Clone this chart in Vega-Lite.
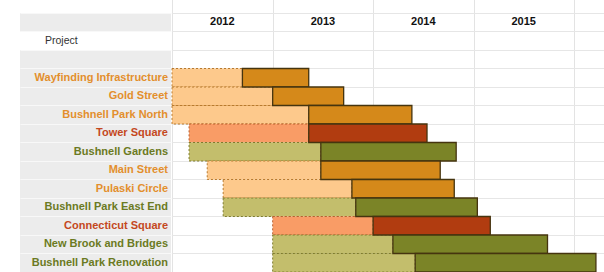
{
  "$schema": "https://vega.github.io/schema/vega-lite/v6.json",
  "padding": {"left": 20, "top": 0, "right": 0, "bottom": 0},
  "spacing": 0,
  "config": {"view": {"stroke": null}, "font": "Liberation Sans"},
  "datasets": {
    "projects": [
      {"row": "_header"},
      {"row": "Project"},
      {"row": "_blank"},
      {"row": "Wayfinding Infrastructure", "category": "orange", "start": "2012-01-01", "mid": "2012-09-13", "end": "2013-05-12"},
      {"row": "Gold Street", "category": "orange", "start": "2012-01-01", "mid": "2013-01-01", "end": "2013-09-16"},
      {"row": "Bushnell Park North", "category": "orange", "start": "2012-01-01", "mid": "2013-05-12", "end": "2014-05-22"},
      {"row": "Tower Square", "category": "red", "start": "2012-03-03", "mid": "2013-05-12", "end": "2014-07-16"},
      {"row": "Bushnell Gardens", "category": "olive", "start": "2012-03-03", "mid": "2013-06-25", "end": "2014-10-30"},
      {"row": "Main Street", "category": "orange", "start": "2012-05-08", "mid": "2013-06-25", "end": "2014-09-02"},
      {"row": "Pulaski Circle", "category": "orange", "start": "2012-07-05", "mid": "2013-10-16", "end": "2014-10-23"},
      {"row": "Bushnell Park East End", "category": "olive", "start": "2012-07-05", "mid": "2013-10-30", "end": "2015-01-15"},
      {"row": "Connecticut Square", "category": "red", "start": "2013-01-01", "mid": "2014-01-01", "end": "2015-03-03"},
      {"row": "New Brook and Bridges", "category": "olive", "start": "2013-01-01", "mid": "2014-03-14", "end": "2015-09-27"},
      {"row": "Bushnell Park Renovation", "category": "olive", "start": "2013-01-01", "mid": "2014-06-03", "end": "2016-03-21"}
    ],
    "years": [
      {"year": "2012"}, {"year": "2013"}, {"year": "2014"}, {"year": "2015"}
    ]
  },
  "hconcat": [
    {
      "width": 151,
      "height": 272,
      "data": {"name": "projects"},
      "layer": [
        {
          "transform": [{"filter": "datum.row != 'Project'"}],
          "mark": {"type": "rect", "fill": "#ececec"},
          "encoding": {
            "y": {
              "field": "row", "type": "nominal",
              "scale": {"domain": ["_top", "_header", "Project", "_blank", "Wayfinding Infrastructure", "Gold Street", "Bushnell Park North", "Tower Square", "Bushnell Gardens", "Main Street", "Pulaski Circle", "Bushnell Park East End", "Connecticut Square", "New Brook and Bridges", "Bushnell Park Renovation"], "range": [-5.5, 272], "paddingInner": 0, "paddingOuter": 0},
              "axis": {"grid": true, "gridColor": "#f8f8f8", "gridWidth": 1, "labels": false, "ticks": false, "domain": false, "title": null, "bandPosition": 0, "zindex": 1}
            },
            "x": {"value": 0},
            "x2": {"value": "width"}
          }
        },
        {
          "transform": [{"filter": "isValid(datum.category)"}],
          "mark": {"type": "text", "align": "right", "baseline": "middle", "dx": -3, "fontSize": 11, "fontWeight": "bold"},
          "encoding": {
            "y": {"field": "row", "type": "nominal"},
            "x": {"value": "width"},
            "text": {"field": "row", "type": "nominal"},
            "color": {"field": "category", "type": "nominal", "scale": {"domain": ["orange", "red", "olive"], "range": ["#E38F2C", "#C4481E", "#6B7A22"]}, "legend": null}
          }
        },
        {
          "transform": [{"filter": "datum.row == 'Project'"}],
          "mark": {"type": "text", "align": "left", "baseline": "middle", "dx": 25, "fontSize": 10.5, "color": "#333333"},
          "encoding": {
            "y": {"field": "row", "type": "nominal"},
            "x": {"value": 0},
            "text": {"field": "row", "type": "nominal"}
          }
        }
      ]
    },
    {
      "width": 433,
      "height": 272,
      "layer": [
        {
          "data": {"name": "projects"},
          "transform": [{"filter": "isValid(datum.category)"}],
          "mark": {"type": "bar", "strokeDash": [2, 2], "strokeWidth": 1},
          "encoding": {
            "y": {
              "field": "row", "type": "nominal",
              "scale": {"domain": ["_top", "_header", "Project", "_blank", "Wayfinding Infrastructure", "Gold Street", "Bushnell Park North", "Tower Square", "Bushnell Gardens", "Main Street", "Pulaski Circle", "Bushnell Park East End", "Connecticut Square", "New Brook and Bridges", "Bushnell Park Renovation"], "range": [-5.5, 272], "paddingInner": 0, "paddingOuter": 0},
              "axis": {"grid": true, "gridColor": "#e6e6e6", "gridWidth": 1, "labels": false, "ticks": false, "domain": false, "title": null, "bandPosition": 0}
            },
            "x": {
              "field": "start", "type": "temporal",
              "scale": {"type": "utc", "domain": [{"year": 2012, "month": 1, "date": 1, "utc": true}, {"year": 2016, "month": 4, "date": 23, "utc": true}]},
              "axis": {"orient": "top", "grid": true, "gridColor": "#e3e3e3", "labels": false, "ticks": false, "domain": false, "title": null,
                "values": [{"year": 2012, "month": 1, "date": 1, "utc": true}, {"year": 2013, "month": 1, "date": 1, "utc": true}, {"year": 2014, "month": 1, "date": 1, "utc": true}, {"year": 2015, "month": 1, "date": 1, "utc": true}, {"year": 2016, "month": 1, "date": 1, "utc": true}]}
            },
            "x2": {"field": "mid"},
            "fill": {"field": "category", "type": "nominal", "scale": {"domain": ["orange", "red", "olive"], "range": ["#FDC98C", "#F99C66", "#C3BE6C"]}, "legend": null},
            "stroke": {"field": "category", "type": "nominal", "scale": {"domain": ["orange", "red", "olive"], "range": ["#B87A2E", "#B8602E", "#7E7C2E"]}, "legend": null}
          }
        },
        {
          "data": {"name": "projects"},
          "transform": [{"filter": "isValid(datum.category)"}],
          "mark": {"type": "bar", "stroke": "#45340f", "strokeWidth": 1.3},
          "encoding": {
            "y": {"field": "row", "type": "nominal"},
            "x": {"field": "mid", "type": "temporal"},
            "x2": {"field": "end"},
            "fill": {"field": "category", "type": "nominal", "scale": {"domain": ["orange", "red", "olive"], "range": ["#D5891A", "#B13C10", "#7B8427"]}, "legend": null}
          }
        },
        {
          "data": {"name": "years"},
          "mark": {"type": "text", "fontSize": 11, "fontWeight": "bold", "color": "#111111", "baseline": "middle"},
          "encoding": {
            "x": {"field": "year", "type": "temporal", "timeUnit": "utcyear", "bandPosition": 0.5},
            "y": {"datum": "_header", "type": "nominal"},
            "text": {"field": "year", "type": "temporal", "timeUnit": "utcyear"}
          }
        }
      ],
      "resolve": {"scale": {"fill": "independent", "stroke": "independent"}}
    }
  ],
  "resolve": {"scale": {"y": "independent", "x": "independent", "color": "independent", "fill": "independent", "stroke": "independent"}}
}
